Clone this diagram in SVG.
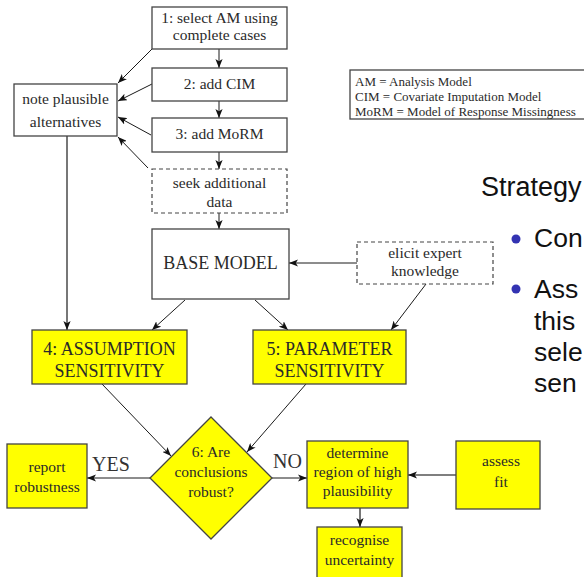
<svg xmlns="http://www.w3.org/2000/svg" width="584" height="577" viewBox="0 0 584 577">
  <style>
    .box { fill: #ffffff; stroke: #444444; stroke-width: 1.3; }
    .dash { fill: #ffffff; stroke: #444444; stroke-width: 1.2; stroke-dasharray: 4 3; }
    .yel { fill: #ffff00; stroke: #444444; stroke-width: 1.3; }
    text.t { font-family: "Liberation Serif", "DejaVu Serif", serif; fill: #2a2a2a; text-anchor: middle; font-size: 15.5px; }
    text.big { font-size: 18px; }
    text.lab { font-family: "Liberation Serif", "DejaVu Serif", serif; fill: #333333; font-size: 20px; }
    text.leg { font-family: "Liberation Serif", "DejaVu Serif", serif; fill: #2a2a2a; font-size: 13px; }
    text.sans { font-family: "Liberation Sans", Arial, sans-serif; fill: #111111; font-size: 26.5px; }
    .c { fill: none; stroke: #1a1a1a; stroke-width: 1; marker-end: url(#ah); }
    .cg { fill: none; stroke: #555555; stroke-width: 1.6; marker-end: url(#ah); }
  </style>
  <defs>
    <marker id="ah" viewBox="0 0 10 8" refX="10" refY="4" markerWidth="9" markerHeight="7.2" markerUnits="userSpaceOnUse" orient="auto">
      <path d="M0,0 L10,4 L0,8 L2.5,4 z" fill="#111111"/>
    </marker>
  </defs>

  <rect width="584" height="577" fill="#ffffff"/>

  <!-- connectors -->
  <g id="connectors">
    <line class="c" x1="219" y1="49" x2="219" y2="68"/>
    <line class="c" x1="219" y1="101" x2="219" y2="118"/>
    <line class="c" x1="219" y1="152" x2="219" y2="169"/>
    <line class="c" x1="219" y1="213" x2="219" y2="229"/>
    <line class="c" x1="152" y1="49" x2="118" y2="83"/>
    <line class="c" x1="152" y1="84" x2="118" y2="101"/>
    <line class="c" x1="151" y1="135" x2="118" y2="117"/>
    <line class="c" x1="148" y1="168" x2="118" y2="137"/>
    <line class="cg" x1="67" y1="136" x2="67" y2="330"/>
    <line class="c" x1="185" y1="300" x2="152" y2="330"/>
    <line class="c" x1="255" y1="300" x2="288" y2="330"/>
    <line class="c" x1="357" y1="263" x2="289" y2="263"/>
    <line class="c" x1="426" y1="284" x2="391" y2="330"/>
    <line class="c" x1="102" y1="384" x2="171" y2="456"/>
    <line class="c" x1="306" y1="384" x2="247" y2="452"/>
    <line class="c" x1="150" y1="478" x2="87" y2="478"/>
    <line class="c" x1="272" y1="478" x2="307" y2="478"/>
    <line class="cg" x1="456" y1="475" x2="408" y2="475"/>
    <line class="cg" x1="360" y1="508" x2="360" y2="527"/>
  </g>

  <!-- edge labels -->
  <text class="lab" x="92" y="471">YES</text>
  <text class="lab" x="273" y="468">NO</text>

  <g id="nodes" font-family="Liberation Serif, DejaVu Serif, serif">
  <g id="n1">
    <rect class="box" x="152" y="7" width="135" height="42"/>
    <text class="t" x="219.5" y="23">1: select AM using</text>
    <text class="t" x="219.5" y="40">complete cases</text>
  </g>
  <g id="n2">
    <rect class="box" x="152" y="68" width="135" height="33"/>
    <text class="t" x="219.5" y="89">2: add CIM</text>
  </g>
  <g id="n3">
    <rect class="box" x="152" y="118" width="135" height="34"/>
    <text class="t" x="219.5" y="139">3: add MoRM</text>
  </g>
  <g id="seek">
    <rect class="dash" x="152" y="169" width="135" height="44"/>
    <text class="t" x="219.5" y="188">seek additional</text>
    <text class="t" x="219.5" y="207">data</text>
  </g>
  <g id="note">
    <rect class="box" x="14" y="84" width="103" height="52"/>
    <text class="t" x="65.5" y="104">note plausible</text>
    <text class="t" x="65.5" y="127">alternatives</text>
  </g>
  <g id="base">
    <rect class="box" x="152" y="229" width="137" height="70"/>
    <text class="t big" x="220.5" y="269">BASE MODEL</text>
  </g>
  <g id="elicit">
    <rect class="dash" x="357" y="242" width="136" height="42"/>
    <text class="t" x="425" y="258">elicit expert</text>
    <text class="t" x="425" y="276">knowledge</text>
  </g>
  <g id="n4">
    <rect class="yel" x="32" y="330" width="155" height="54"/>
    <text class="t big" x="109.5" y="355">4: ASSUMPTION</text>
    <text class="t big" x="109.5" y="377">SENSITIVITY</text>
  </g>
  <g id="n5">
    <rect class="yel" x="253" y="330" width="153" height="54"/>
    <text class="t big" x="329.5" y="355">5: PARAMETER</text>
    <text class="t big" x="329.5" y="377">SENSITIVITY</text>
  </g>
  <g id="n6">
    <polygon class="yel" points="211,417 272,478 211,539 150,478"/>
    <text class="t" x="211" y="457">6: Are</text>
    <text class="t" x="211" y="477">conclusions</text>
    <text class="t" x="211" y="497">robust?</text>
  </g>
  <g id="report">
    <rect class="yel" x="7" y="444" width="80" height="64"/>
    <text class="t" x="47" y="472">report</text>
    <text class="t" x="47" y="492">robustness</text>
  </g>
  <g id="determine">
    <rect class="yel" x="307" y="441" width="101" height="67"/>
    <text class="t" x="357.5" y="458">determine</text>
    <text class="t" x="357.5" y="477">region of high</text>
    <text class="t" x="357.5" y="496">plausibility</text>
  </g>
  <g id="assess">
    <rect class="yel" x="456" y="441" width="84" height="68"/>
    <text class="t" x="501" y="466">assess</text>
    <text class="t" x="501" y="487">fit</text>
  </g>
  <g id="recognise">
    <rect class="yel" x="317" y="527" width="85" height="53"/>
    <text class="t" x="359.5" y="545">recognise</text>
    <text class="t" x="359.5" y="565">uncertainty</text>
  </g>
  </g>

  <!-- abbreviations key -->
  <g id="legend">
    <rect fill="#ffffff" stroke="#444444" stroke-width="1.3" x="350" y="70" width="260" height="49"/>
    <text class="leg" x="355" y="86">AM = Analysis Model</text>
    <text class="leg" x="355" y="101">CIM = Covariate Imputation Model</text>
    <text class="leg" x="355" y="116">MoRM = Model of Response Missingness</text>
  </g>

  <!-- slide text -->
  <g id="slide-text">
    <text class="sans" x="481" y="196" style="font-size:27px">Strategy</text>
    <circle cx="516" cy="239" r="4.5" fill="#3333b2"/>
    <text class="sans" x="534" y="247">Con</text>
    <circle cx="516" cy="289" r="4.5" fill="#3333b2"/>
    <text class="sans" x="534" y="298">Ass</text>
    <text class="sans" x="534" y="330">this</text>
    <text class="sans" x="534" y="361">sele</text>
    <text class="sans" x="534" y="392">sen</text>
  </g>
</svg>
